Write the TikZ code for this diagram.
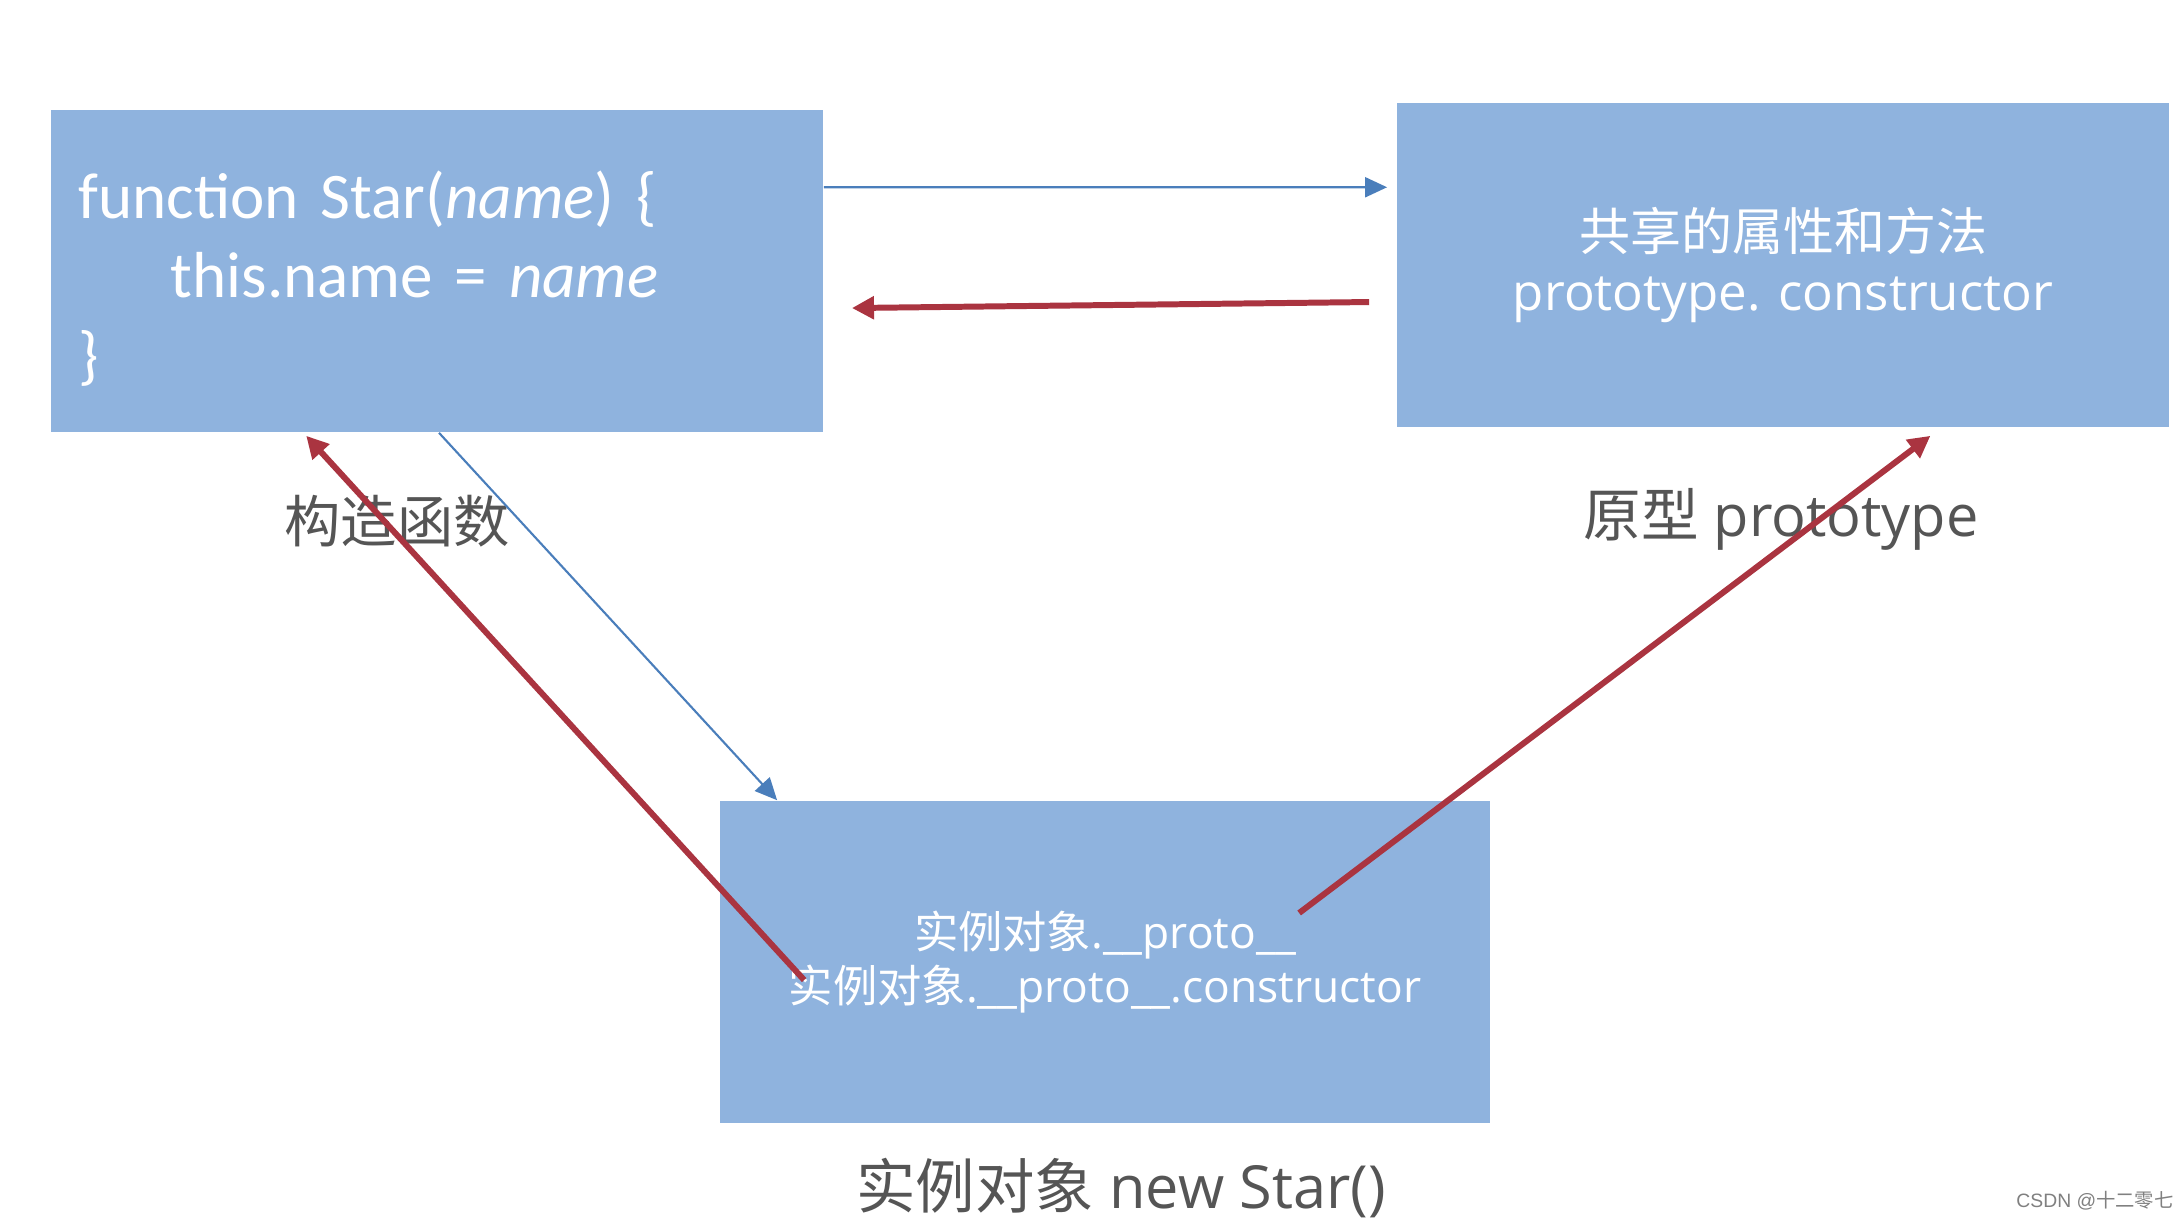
\documentclass[tikz,border=0pt]{standalone}
\usepackage{fontspec}
\setmainfont{Open Sans}
\newfontfamily\cjk{Noto Sans CJK SC}
\newfontfamily\codefont{Carlito}
\newfontfamily\markfont{Liberation Sans}
\usetikzlibrary{arrows.meta}
\definecolor{boxblue}{RGB}{143,179,222}
\definecolor{arrowred}{RGB}{170,52,64}
\definecolor{lineblue}{RGB}{74,126,187}
\definecolor{labelgray}{RGB}{85,85,85}

\begin{document}
\begin{tikzpicture}[x=0.01cm,y=-0.01cm,
    panel/.style={fill=boxblue, draw=none, minimum width=7.72cm, minimum height=3.22cm, inner sep=0pt, text=white},
    capt/.style={text=labelgray, inner sep=1pt, font=\fontsize{16}{19}\selectfont},
    redline/.style={draw=arrowred, line width=1.7pt, -{Triangle[length=0.22cm,width=0.22cm]}},
    blueline/.style={draw=lineblue, line width=0.6pt, -{Triangle[length=0.22cm,width=0.2cm]}}]
    \useasboundingbox (0,0) rectangle (2180,1220);
    \fill[white] (0,0) rectangle (2180,1220);
    \node[panel, text width=7.16cm, align=left, font=\codefont\fontsize{18.5}{22.6}\selectfont] (ctor) at (437,271) {\rule{0pt}{0.62cm}function Star(\textit{name}) \{\\\hspace*{0.92cm}this.name = \textit{name}\\\}};
    \node[panel, minimum height=3.24cm, align=center, font=\fontsize{14.5}{17.2}\selectfont] (proto) at (1783,265) {{\cjk 共享的属性和方法}\\prototype. constructor};
    \node[panel, minimum width=7.70cm, align=center, font=\fontsize{12.6}{15.4}\selectfont] (inst) at (1105,962) {{\cjk 实例对象}.\_\_proto\_\_\\{\cjk 实例对象}.\_\_proto\_\_.constructor};
    \node[capt] (ctorcap) at (397,521) {\cjk 构造函数};
    \node[capt, font=\fontsize{16.4}{19}\selectfont] (protocap) at (1781,519) {{\cjk 原型} prototype};
    \node[capt, font=\fontsize{16.9}{19}\selectfont] (instcap) at (1121,1188) {{\cjk 实例对象} new Star()};
    \node[text=gray, inner sep=1pt, font=\markfont\fontsize{5.5}{6.6}\selectfont] (mark) at (2095,1201) {CSDN @{\cjk 十二零七}};
    \draw[blueline] ([yshift=-0.78cm]ctor.north east) -- ([xshift=-0.09cm,yshift=-0.85cm]proto.north west);
    \draw[redline] ([xshift=-0.27cm,yshift=-0.37cm]proto.west) -- ([xshift=0.28cm,yshift=-0.37cm]ctor.east);
    \draw[blueline] ([xshift=0.02cm]ctor.south) -- ([xshift=0.58cm]inst.north west);
    \draw[redline] ([xshift=0.85cm,yshift=-0.18cm]inst.west) -- ([xshift=2.56cm,yshift=-0.03cm]ctor.south west);
    \draw[redline] ([xshift=1.94cm,yshift=0.49cm]inst.center) -- ([xshift=5.34cm,yshift=-0.08cm]proto.south west);
\end{tikzpicture}
\end{document}
